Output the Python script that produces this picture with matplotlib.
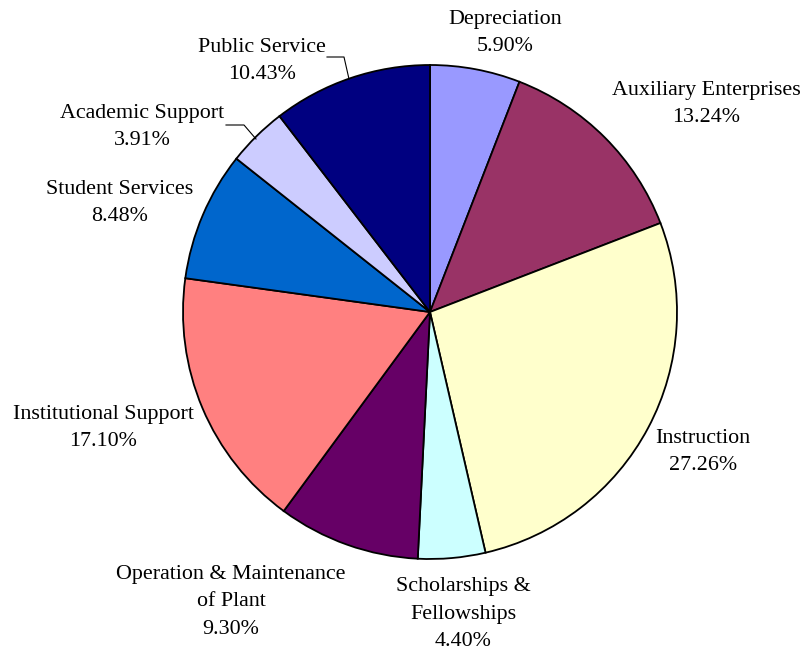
import matplotlib.pyplot as plt

plt.rcParams['font.family'] = ['Liberation Serif', 'DejaVu Serif']

categories = ['Depreciation', 'Auxiliary Enterprises', 'Instruction',
              'Scholarships &\nFellowships', 'Operation & Maintenance\nof Plant',
              'Institutional Support', 'Student Services', 'Academic Support',
              'Public Service']
shares = [5.90, 13.24, 27.26, 4.40, 9.30, 17.10, 8.48, 3.91, 10.43]
colors = ['#9999FF', '#993366', '#FFFFCC', '#CCFFFF', '#660066',
          '#FF8080', '#0066CC', '#CCCCFF', '#000080']

# label centres in pixel coords (x, y from top)
label_pos = [(505, 33), (706, 104), (703, 452), (463, 614), (231, 602),
             (103, 428), (120, 203), (142, 127), (262, 61)]

W, H = 801, 650
fig = plt.figure(figsize=(W / 100, H / 100), dpi=100)
ax = fig.add_axes([0, 0, 1, 1])

cx, cy, r = 430, H - 312, 247
ax.pie(shares, colors=colors, startangle=90, counterclock=False,
       center=(cx, cy), radius=r,
       wedgeprops=dict(edgecolor='black', linewidth=1.3))

for name, val, (x, y) in zip(categories, shares, label_pos):
    ax.text(x, H - y, f'{name}\n{val:.2f}%', ha='center', va='center',
            multialignment='center', fontsize=15.8, linespacing=1.62)

# leader lines
ax.plot([327, 344, 349], [H - 57, H - 57, H - 79], color='black', lw=0.8)
ax.plot([226, 244, 256], [H - 125, H - 125, H - 139], color='black', lw=0.8)

ax.set_xlim(0, W)
ax.set_ylim(0, H)
ax.set_aspect('equal')
ax.axis('off')

fig.savefig('out.png', dpi=100, facecolor='white')
